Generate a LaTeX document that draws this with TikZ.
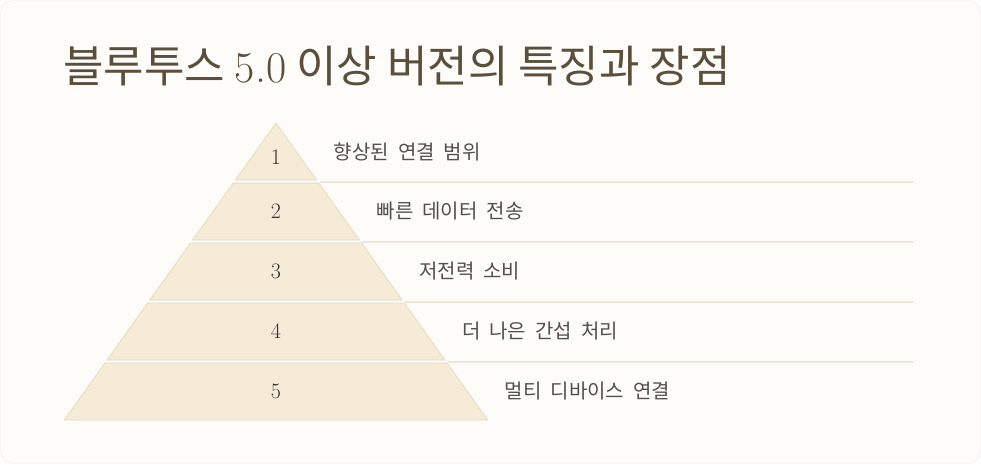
\documentclass[tikz,border=0pt]{standalone}
\usepackage{fontspec}
\newfontfamily\krfont{Noto Sans CJK KR}
\definecolor{cardbg}{HTML}{FDFCF8}
\definecolor{cardedge}{HTML}{ECEAE4}
\definecolor{titlecol}{HTML}{5B4E3C}
\definecolor{layerfill}{HTML}{F5EBD7}
\definecolor{layeredge}{HTML}{E6DCC3}
\definecolor{sepcol}{HTML}{EBE6D7}
\definecolor{lblcol}{HTML}{505050}
\definecolor{numcol}{HTML}{333333}
\tikzset{
  title/.style={anchor=west, inner sep=0pt, text=titlecol, font={\krfont\fontsize{44}{48}\selectfont}},
  layer/.style={fill=layerfill, draw=layeredge, line width=.8pt},
  num/.style={inner sep=0pt, text=numcol, font={\fontsize{22}{26}\selectfont}},
  lbl/.style={anchor=west, inner sep=0pt, text=lblcol, font={\krfont\fontsize{20}{24}\selectfont\spaceskip=.45em\relax}},
  sep/.style={draw=sepcol, line width=2pt, line cap=butt}
}
\begin{document}
\begin{tikzpicture}[x=1pt, y=-1pt, line join=round, line cap=round]
	\def\apx{276} \def\apy{123}
	\def\slope{.713} \def\lineend{913}
	\useasboundingbox (0,0) rectangle (981,464);
	\fill[white] (0,0) rectangle (981,464);
	\filldraw[fill=cardbg, draw=cardedge, rounded corners=12pt] (.5,.5) rectangle (980.5,463.5);
	\node[title] (title) at (63,66) {블루투스 {\rmfamily 5.0} 이상 버전의 특징과 장점};
	% pyramid layers: number / top / bottom / y of digit / text
	\foreach \i/\t/\b/\ny/\txt in {1/123/180/157.5/향상된 연결 범위,
		2/183/240/211.5/빠른 데이터 전송,
		3/243/300/271.5/저전력 소비,
		4/303/360/331.5/더 나은 간섭 처리,
		5/363/420/391.5/멀티 디바이스 연결}{
		\pgfmathsetmacro\wt{(\t-\apy)*\slope}
		\pgfmathsetmacro\wb{(\b-\apy)*\slope}
		\filldraw[layer] (\apx-\wt,\t) -- (\apx+\wt,\t) -- (\apx+\wb,\b) -- (\apx-\wb,\b) -- cycle;
		\node[num] (n\i) at (\apx,\ny) {\i};
		\node[lbl] (l\i) at (\apx+\wb+17,{(\t+\b)/2}) {\txt};
		\ifnum\i<5
			\coordinate (s\i) at (\apx+\wb+3,\b+1.5);
			\coordinate (e\i) at (\lineend,\b+1.5);
			\draw[sep] (s\i) -- (e\i);
		\fi
	}
\end{tikzpicture}
\end{document}
